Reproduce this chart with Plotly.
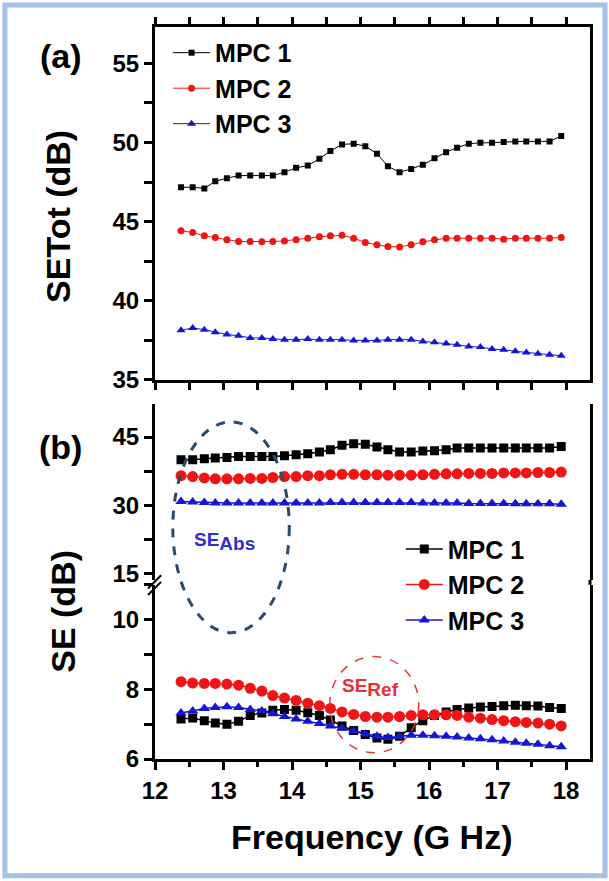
import plotly.graph_objects as go

# Frequency points (GHz)
freq = [12.38, 12.55, 12.72, 12.88, 13.05, 13.22, 13.39, 13.56, 13.72, 13.89,
        14.06, 14.23, 14.40, 14.56, 14.73, 14.90, 15.07, 15.24, 15.40, 15.57,
        15.74, 15.91, 16.08, 16.25, 16.41, 16.58, 16.75, 16.92, 17.09, 17.26,
        17.42, 17.59, 17.76, 17.93]

# (a) total shielding effectiveness (dB)
setot_mpc1 = [47.17, 47.17, 47.10, 47.55, 47.74, 47.91, 47.91, 47.91, 47.91, 48.12,
              48.40, 48.54, 48.97, 49.46, 49.88, 49.92, 49.77, 49.29, 48.50, 48.12,
              48.33, 48.59, 49.01, 49.39, 49.67, 49.92, 49.98, 49.98, 50.03, 50.07,
              50.07, 50.07, 50.07, 50.41]
setot_mpc2 = [44.42, 44.31, 44.10, 44.00, 43.85, 43.74, 43.74, 43.72, 43.74, 43.78,
              43.85, 43.95, 44.04, 44.10, 44.14, 43.95, 43.68, 43.53, 43.42, 43.40,
              43.53, 43.72, 43.85, 43.95, 43.95, 43.95, 43.95, 43.95, 43.89, 43.95,
              43.95, 43.95, 43.95, 44.00]
setot_mpc3 = [38.13, 38.28, 38.17, 38.00, 37.86, 37.79, 37.65, 37.65, 37.58, 37.54,
              37.54, 37.58, 37.54, 37.54, 37.54, 37.49, 37.49, 37.49, 37.54, 37.54,
              37.54, 37.43, 37.37, 37.29, 37.22, 37.11, 37.07, 36.95, 36.90, 36.80,
              36.73, 36.65, 36.59, 36.52]

# (b) absorption component (dB)
seabs_mpc1 = [40.0, 40.0, 40.2, 40.4, 40.5, 40.7, 40.7, 40.7, 40.7, 40.9,
              41.1, 41.3, 41.7, 42.2, 43.2, 43.5, 43.4, 42.8, 42.2, 41.7,
              41.7, 41.9, 42.0, 42.2, 42.6, 42.6, 42.6, 42.6, 42.6, 42.6,
              42.6, 42.6, 42.6, 42.9]
seabs_mpc2 = [36.5, 36.3, 36.0, 35.8, 35.8, 35.8, 35.9, 35.9, 36.1, 36.3,
              36.3, 36.5, 36.5, 36.7, 36.8, 36.8, 36.7, 36.7, 36.6, 36.6,
              36.6, 36.7, 36.8, 36.9, 36.9, 37.0, 37.0, 37.0, 37.1, 37.1,
              37.1, 37.2, 37.2, 37.3]
seabs_mpc3 = [30.8, 30.7, 30.6, 30.5, 30.5, 30.5, 30.5, 30.5, 30.5, 30.5,
              30.5, 30.5, 30.5, 30.6, 30.6, 30.6, 30.6, 30.6, 30.6, 30.6,
              30.6, 30.5, 30.5, 30.5, 30.5, 30.4, 30.4, 30.4, 30.4, 30.3,
              30.3, 30.3, 30.3, 30.2]

# (b) reflection component (dB)
seref_mpc1 = [7.15, 7.18, 7.10, 7.03, 7.00, 7.08, 7.25, 7.32, 7.40, 7.42,
              7.40, 7.33, 7.25, 7.12, 6.95, 6.82, 6.70, 6.60, 6.57, 6.65,
              6.90, 7.10, 7.25, 7.35, 7.42, 7.46, 7.49, 7.51, 7.53, 7.54,
              7.53, 7.52, 7.48, 7.45]
seref_mpc2 = [8.22, 8.18, 8.17, 8.17, 8.15, 8.12, 8.03, 7.95, 7.82, 7.75,
              7.68, 7.60, 7.53, 7.45, 7.35, 7.28, 7.22, 7.20, 7.20, 7.22,
              7.25, 7.27, 7.27, 7.27, 7.25, 7.20, 7.17, 7.13, 7.10, 7.07,
              7.05, 7.03, 7.00, 6.95]
seref_mpc3 = [7.32, 7.38, 7.45, 7.48, 7.50, 7.48, 7.42, 7.38, 7.30, 7.22,
              7.15, 7.08, 7.02, 6.95, 6.88, 6.80, 6.72, 6.65, 6.62, 6.65,
              6.68, 6.68, 6.67, 6.65, 6.63, 6.60, 6.58, 6.55, 6.52, 6.48,
              6.45, 6.42, 6.38, 6.35]

names = ["MPC 1", "MPC 2", "MPC 3"]
colors = ["#000000", "#f01414", "#1515d6"]
symbols = ["square", "circle", "triangle-up"]

FONT = "Liberation Sans, Arial, sans-serif"
XR = [12, 18.35]

fig = go.Figure()

# panel (a)
for nm, col, sym, ys, sz in zip(names, colors, symbols,
                                [setot_mpc1, setot_mpc2, setot_mpc3], [6, 7, 8]):
    fig.add_trace(go.Scatter(
        x=freq, y=ys, name=nm, mode="lines+markers", xaxis="x", yaxis="y",
        legend="legend", line=dict(color=col, width=1),
        marker=dict(symbol=sym, size=sz, color=col)))

# panel (b), upper segment (absorption)
for nm, col, sym, ys, sz in zip(names, colors, symbols,
                                [seabs_mpc1, seabs_mpc2, seabs_mpc3], [9, 11, 10]):
    fig.add_trace(go.Scatter(
        x=freq, y=ys, name=nm, mode="lines+markers", xaxis="x2", yaxis="y2",
        legend="legend2", line=dict(color=col, width=1.5),
        marker=dict(symbol=sym, size=sz, color=col)))

# panel (b), lower segment (reflection)
for nm, col, sym, ys, sz in zip(names, colors, symbols,
                                [seref_mpc1, seref_mpc2, seref_mpc3], [9, 11, 10]):
    fig.add_trace(go.Scatter(
        x=freq, y=ys, name=nm, mode="lines+markers", xaxis="x2", yaxis="y3",
        showlegend=False, line=dict(color=col, width=1.5),
        marker=dict(symbol=sym, size=sz, color=col)))

tickfont = dict(family=FONT, size=24, color="black", weight="bold")
common_x = dict(range=XR, dtick=1, showgrid=False, zeroline=False,
                linecolor="black", linewidth=3, tickwidth=2.5, tickcolor="black")
common_y = dict(showgrid=False, zeroline=False, linecolor="black", linewidth=3,
                tickwidth=2.5, tickcolor="black", tickfont=tickfont,
                showline=True, mirror=True, ticks="outside", ticklen=8)

D_A = [0.518, 1.0]
D_BU = [0.2448, 0.4852]
D_BL = [0.0, 0.238]

legend_font = dict(family=FONT, size=25, color="black", weight="bold")

fig.update_layout(
    width=609, height=881,
    margin=dict(l=155, r=19, t=27, b=121.7),
    paper_bgcolor="white", plot_bgcolor="white",
    font=dict(family=FONT, color="black"),
    xaxis=dict(domain=[0, 1], anchor="y", showline=True, mirror="allticks",
               ticks="outside", ticklen=7, showticklabels=False,
               minor=dict(dtick=0.5, ticks="outside", ticklen=7,
                          tickwidth=2.5, tickcolor="black"),
               **common_x),
    xaxis3=dict(overlaying="x", anchor="y", showline=False, mirror="allticks",
                ticks="inside", ticklen=7, showticklabels=False,
                minor=dict(dtick=0.5, ticks="inside", ticklen=7,
                           tickwidth=2.5, tickcolor="black"),
                **common_x),
    yaxis=dict(domain=D_A, anchor="x", range=[35, 57.3], dtick=5,
               minor=dict(dtick=2.5, ticks="outside", ticklen=8,
                          tickwidth=2.5, tickcolor="black"),
               **common_y),
    xaxis2=dict(domain=[0, 1], anchor="y3", showline=True, ticks="outside",
                ticklen=8, tickfont=tickfont,
                minor=dict(dtick=0.5, ticks="outside", ticklen=5,
                           tickwidth=2.5, tickcolor="black"),
                **common_x),
    xaxis4=dict(overlaying="x2", anchor="y2", side="top", showline=True,
                ticks="outside", ticklen=7, showticklabels=False,
                minor=dict(dtick=0.5, ticks="outside", ticklen=7,
                           tickwidth=2.5, tickcolor="black"),
                **common_x),
    xaxis5=dict(overlaying="x2", anchor="y2", side="top", showline=False,
                ticks="inside", ticklen=7, showticklabels=False,
                minor=dict(dtick=0.5, ticks="inside", ticklen=7,
                           tickwidth=2.5, tickcolor="black"),
                **common_x),
    yaxis2=dict(domain=D_BU, anchor="x2", range=[13.6, 52.3], dtick=15,
                minor=dict(dtick=7.5, ticks="outside", ticklen=8,
                           tickwidth=2.5, tickcolor="black"),
                **common_y),
    yaxis3=dict(domain=D_BL, anchor="x2", range=[6, 11], dtick=2,
                minor=dict(dtick=1, ticks="outside", ticklen=8,
                           tickwidth=2.5, tickcolor="black"),
                **common_y),
    legend=dict(x=0.03, y=0.996, xanchor="left", yanchor="top",
                bgcolor="rgba(0,0,0,0)", itemwidth=37, tracegroupgap=0,
                font=legend_font),
    legend2=dict(x=0.565, y=0.318, xanchor="left", yanchor="top",
                 bgcolor="rgba(0,0,0,0)", itemwidth=37, tracegroupgap=0,
                 font=legend_font),
)

title_font = dict(family=FONT, size=34, color="black", weight="bold")
annotations = [
    dict(text="(a)", x=-0.216, y=0.9604, font=title_font),
    dict(text="(b)", x=-0.218, y=0.4265, font=title_font),
    dict(text="SETot (dB)", x=-0.223, y=0.7419, textangle=-90, font=title_font),
    dict(text="SE (dB)", x=-0.2115, y=0.2025, textangle=-90, font=title_font),
    dict(text="Frequency (G Hz)", x=0.4966, y=-0.1061, font=title_font),
]
for a in annotations:
    a.update(xref="paper", yref="paper", showarrow=False,
             xanchor="center", yanchor="middle")
    fig.add_annotation(**a)

fig.add_annotation(
    text="SE<sub><span style='font-size:19px'>Abs</span></sub>",
    x=13.02, y=0.277, xref="x2", yref="paper", showarrow=False,
    font=dict(family=FONT, size=19, color="#2f2fd0", weight="bold"))
fig.add_annotation(
    text="SE<sub><span style='font-size:19px'>Ref</span></sub>",
    x=15.14, y=8.05, xref="x2", yref="y3", showarrow=False,
    font=dict(family=FONT, size=19, color="#e8303a", weight="bold"))

shapes = [
    # dashed ellipse around the absorption curves
    dict(type="circle", xref="x2", yref="paper", x0=12.26, x1=13.96,
         y0=0.1725, y1=0.4606, line=dict(color="#2c4a6a", width=3, dash="dash")),
    # dashed circle around the reflection curves
    dict(type="circle", xref="x2", yref="y3", x0=14.55, x1=15.85,
         y0=6.18, y1=8.94, line=dict(color="#e23a3a", width=1.5, dash="dash")),
    # right edge of panel (b) across the break
    dict(type="line", xref="paper", yref="paper", x0=1, x1=1,
         y0=D_BL[1], y1=D_BU[0], line=dict(color="black", width=3)),
    # axis break marks
    dict(type="line", xref="paper", yref="paper", x0=-0.016, x1=0.014,
         y0=0.233, y1=0.251, line=dict(color="black", width=2)),
    dict(type="line", xref="paper", yref="paper", x0=-0.016, x1=0.014,
         y0=0.224, y1=0.242, line=dict(color="black", width=2)),
    # outer frame
    dict(type="rect", xref="paper", yref="paper", x0=-0.345, x1=1.0345,
         y0=-0.1594, y1=1.030, line=dict(color="#a5c1e3", width=5),
         fillcolor="rgba(0,0,0,0)", layer="below"),
]
for s in shapes:
    fig.add_shape(**s)

fig.write_html("out.html")
